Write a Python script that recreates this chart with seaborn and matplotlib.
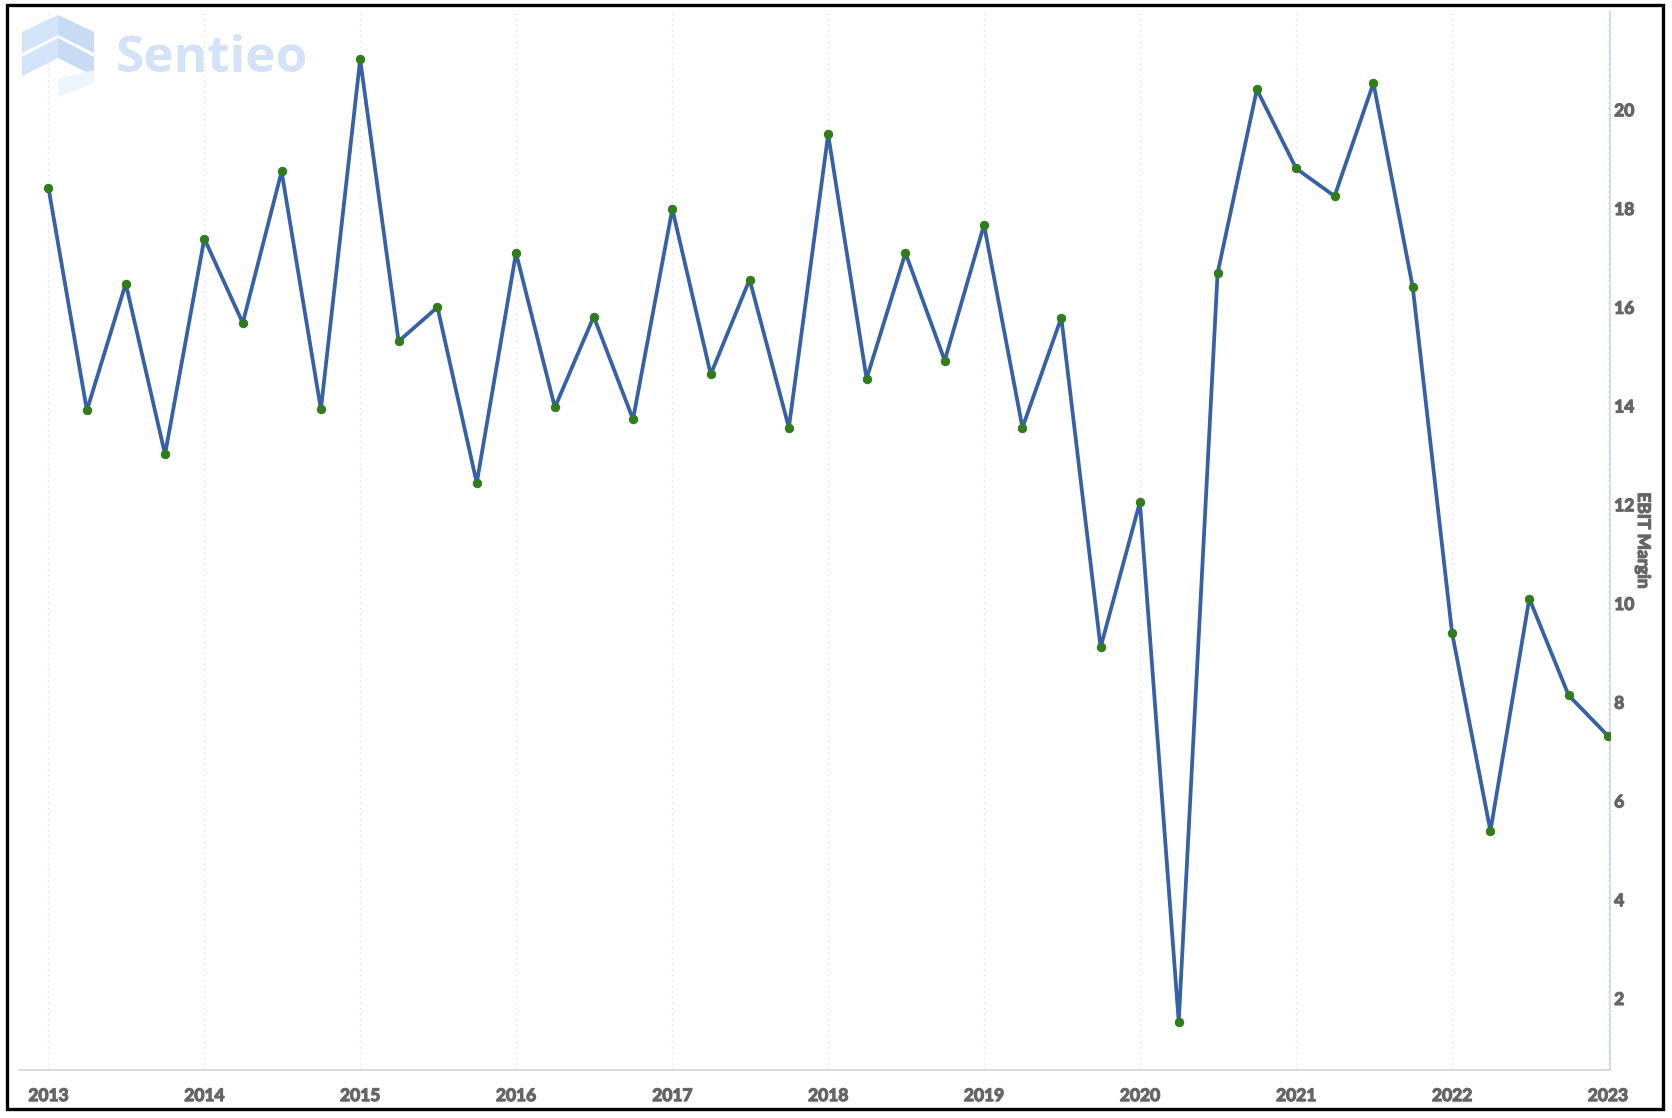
import pandas as pd
import seaborn as sns
import matplotlib.pyplot as plt
import matplotlib.dates as mdates
import matplotlib.patheffects as pe
from matplotlib.patches import Polygon, Rectangle

# quarterly EBIT margin (%)
quarters = pd.date_range("2013-01-01", "2023-01-01", freq="QS")
ebit_margin = [
    18.42, 13.91, 16.48, 13.02,
    17.39, 15.68, 18.75, 13.93,
    21.02, 15.31, 16.00, 12.44,
    17.10, 13.97, 15.81, 13.73,
    17.99, 14.64, 16.56, 13.56,
    19.50, 14.55, 17.10, 14.92,
    17.67, 13.56, 15.79, 9.11,
    12.05, 1.53, 16.69, 20.41,
    18.81, 18.25, 20.54, 16.41,
    9.41, 5.39, 10.10, 8.14,
    7.32,
]
y_ticks = [2, 4, 6, 8, 10, 12, 14, 16, 18, 20]

df = pd.DataFrame({"date": quarters, "EBIT Margin": ebit_margin})

sns.set_style("white")
plt.rcParams["font.family"] = ["Lato", "DejaVu Sans"]

W, H = 1672, 1118
fig = plt.figure(figsize=(W / 100, H / 100), dpi=100)
ax = fig.add_axes([19 / W, 1 - 1070 / H, (1610 - 19) / W, (1070 - 11) / H])

line_blue = "#3660a8"
dot_green = "#2f7d1c"
axis_blue = "#ccd6eb"
label_grey = "#666666"

sns.lineplot(data=df, x="date", y="EBIT Margin", ax=ax, color=line_blue,
             linewidth=2.7, marker="o", markersize=6,
             markerfacecolor=dot_green, markeredgecolor=dot_green, zorder=3)

ax.set_xlim(pd.Timestamp("2012-10-24"), pd.Timestamp("2023-01-06"))
ax.set_ylim(0.55, 22.0)

ax.xaxis.set_major_locator(mdates.YearLocator())
ax.xaxis.set_major_formatter(mdates.DateFormatter("%Y"))
ax.grid(axis="x", color="#e2e2e2", linestyle=(0, (1, 3)), linewidth=1)
ax.grid(axis="y", visible=False)

ax.yaxis.tick_right()
ax.yaxis.set_label_position("right")
ax.set_yticks(y_ticks)
ax.set_xlabel("")
ax.set_ylabel("EBIT Margin", rotation=270, labelpad=12, color=label_grey,
              fontsize=12.5, fontweight="bold")

for side in ["top", "left"]:
    ax.spines[side].set_visible(False)
for side in ["bottom", "right"]:
    ax.spines[side].set_color(axis_blue)
    ax.spines[side].set_linewidth(1.2)

ax.tick_params(axis="x", length=10, width=1.2, color=axis_blue, pad=3,
               labelsize=12.5, labelcolor=label_grey)
ax.tick_params(axis="y", length=0, pad=3, labelsize=12.5, labelcolor=label_grey)

# fake a heavier weight with a thin outline of the same grey
bold = [pe.withStroke(linewidth=0.9, foreground=label_grey)]
for lbl in ax.get_xticklabels() + ax.get_yticklabels() + [ax.yaxis.label]:
    lbl.set_fontweight("bold")
    lbl.set_path_effects(bold)


# Sentieo watermark, drawn in figure pixel coordinates
def px(points):
    return [(x / W, 1 - y / H) for x, y in points]


logo = [
    ([(22, 32), (58, 15), (58, 35), (22, 53)], "#d3e3fa"),
    ([(58, 15), (94, 32), (94, 53), (58, 35)], "#c8dbf5"),
    ([(22, 57), (58, 38), (58, 58), (22, 76)], "#d3e3fa"),
    ([(58, 38), (94, 57), (94, 76), (58, 58)], "#c8dbf5"),
    ([(58, 79), (94, 70), (94, 83), (58, 97)], "#eef4fc"),
]
for pts, col in logo:
    fig.patches.append(Polygon(px(pts), closed=True, transform=fig.transFigure,
                               facecolor=col, edgecolor="none", zorder=5))
fig.text(116 / W, 1 - 72 / H, "Sentieo", fontsize=37, fontweight="bold",
         color="#d3e2f7", family=["Open Sans", "DejaVu Sans"], va="baseline",
         zorder=5)

# black frame around the whole picture
fig.patches.append(Rectangle((7 / W, 1 - 1109 / H), (1663 - 7) / W, (1109 - 5) / H,
                             transform=fig.transFigure, fill=False,
                             edgecolor="black", linewidth=2.4, zorder=10))

fig.savefig("out.png", dpi=100, facecolor="white")
